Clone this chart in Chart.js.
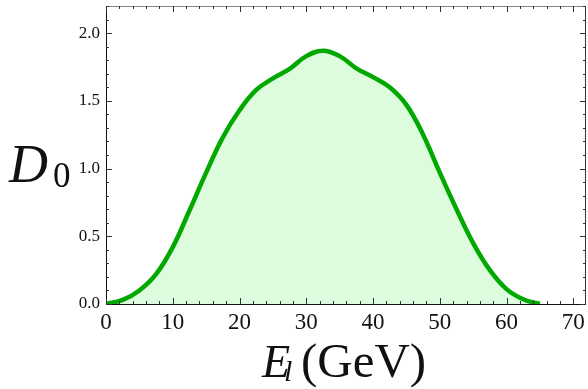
<!DOCTYPE html>
<html>
<head>
<meta charset="utf-8">
<script src="https://cdn.jsdelivr.net/npm/chart.js@4"></script>
<style>
  html, body { margin: 0; padding: 0; background: #fff; }
  #wrap { width: 588px; height: 389px; }
</style>
</head>
<body>
<div id="wrap"><canvas id="myChart" width="588" height="389"></canvas></div>
<script>
// data
var energy = [0, 2.5, 5, 7.5, 10, 12.5, 15, 17.5, 20, 22.5, 25, 27.5, 30, 32.5, 35, 37.5, 40, 42.5, 45, 47.5, 50, 52.5, 55, 57.5, 60, 62.5, 65];
var d0 = [0.0, 0.03, 0.10, 0.22, 0.42, 0.69, 0.97, 1.23, 1.43, 1.58, 1.665, 1.735, 1.83, 1.87, 1.83, 1.74, 1.675, 1.60, 1.47, 1.25, 0.97, 0.70, 0.45, 0.25, 0.11, 0.035, 0.0];
var xTicks = [0, 10, 20, 30, 40, 50, 60, 70];
var yTicks = [0.0, 0.5, 1.0, 1.5, 2.0];

var serif = '"Liberation Serif", "DejaVu Serif", serif';

// frame, inward ticks and axis titles
var framePlugin = {
    id: 'frame',
    afterDraw: function (chart) {
        var ctx = chart.ctx;
        var a = chart.chartArea;
        var xs = chart.scales.x;
        var ys = chart.scales.y;
        ctx.save();
        ctx.lineWidth = 1;
        var L = a.left + 0.5, R = a.right - 0.5, T = a.top + 0.5, B = a.bottom + 0.5;
        ctx.strokeStyle = '#888';
        ctx.beginPath(); ctx.moveTo(L, T); ctx.lineTo(R, T); ctx.stroke();
        ctx.strokeStyle = '#333';
        ctx.beginPath(); ctx.moveTo(R, T); ctx.lineTo(R, B); ctx.stroke();
        ctx.strokeStyle = '#111';
        ctx.beginPath(); ctx.moveTo(L, T); ctx.lineTo(L, B); ctx.lineTo(R, B); ctx.stroke();

        ctx.strokeStyle = '#333';
        // x ticks, major every 10, minor every 2
        for (var v = 0; v <= xs.max; v += 2) {
            var px = Math.round(xs.getPixelForValue(v)) + 0.5;
            var len = (v % 10 === 0) ? 6 : 3;
            ctx.beginPath();
            ctx.moveTo(px, a.bottom);
            ctx.lineTo(px, a.bottom - len);
            ctx.moveTo(px, a.top);
            ctx.lineTo(px, a.top + len);
            ctx.stroke();
        }
        // y ticks, major every 0.5, minor every 0.1
        for (var i = 0; i <= Math.round(ys.max * 10); i++) {
            var py = Math.round(ys.getPixelForValue(i / 10)) + 0.5;
            var l2 = (i % 5 === 0) ? 6 : 3;
            ctx.beginPath();
            ctx.moveTo(a.left, py);
            ctx.lineTo(a.left + l2, py);
            ctx.moveTo(a.right, py);
            ctx.lineTo(a.right - l2, py);
            ctx.stroke();
        }

        // y title: D_0
        ctx.fillStyle = '#111';
        ctx.textBaseline = 'alphabetic';
        ctx.textAlign = 'left';
        ctx.font = 'italic 54px ' + serif;
        ctx.fillText('D', 9, 182);
        ctx.font = '35px ' + serif;
        ctx.fillText('0', 53, 187);

        // x title: E_l (GeV)
        ctx.font = 'italic 46px ' + serif;
        ctx.fillText('E', 262, 377);
        ctx.font = 'italic 30px ' + serif;
        ctx.fillText('l', 284, 381);
        ctx.font = '49px ' + serif;
        ctx.fillText('(GeV)', 301, 377);
        ctx.restore();
    }
};

var data = {
    datasets: [{
        data: energy.map(function (e, i) { return { x: e, y: d0[i] }; }),
        borderColor: '#00a800',
        backgroundColor: '#ddfcdd',
        borderWidth: 4.5,
        fill: 'origin',
        pointRadius: 0,
        tension: 0.4
    }]
};

var config = {
    type: 'line',
    data: data,
    options: {
        responsive: false,
        animation: false,
        layout: { padding: { top: 6, right: 2, left: 0, bottom: 0 } },
        plugins: { legend: { display: false }, tooltip: { enabled: false } },
        scales: {
            x: {
                type: 'linear',
                min: 0,
                max: 71.9,
                grid: { display: false, drawTicks: false, tickLength: 0 },
                border: { display: false },
                afterBuildTicks: function (s) { s.ticks = xTicks.map(function (v) { return { value: v }; }); },
                afterFit: function (s) { s.height = 85; s.paddingLeft = 0; s.paddingRight = 0; },
                ticks: {
                    color: '#111',
                    padding: 5,
                    maxRotation: 0,
                    font: { family: serif, size: 23 },
                    callback: function (v) { return String(v); }
                }
            },
            y: {
                min: 0,
                max: 2.2,
                grid: { display: false, drawTicks: false, tickLength: 0 },
                border: { display: false },
                afterBuildTicks: function (s) { s.ticks = yTicks.map(function (v) { return { value: v }; }); },
                afterFit: function (s) { s.width = 106; s.paddingTop = 0; s.paddingBottom = 0; },
                ticks: {
                    color: '#111',
                    padding: 6,
                    font: { family: serif, size: 17 },
                    callback: function (v) { return v.toFixed(1); }
                }
            }
        }
    },
    plugins: [framePlugin]
};

var myChart = new Chart(document.getElementById('myChart'), config);
</script>
</body>
</html>
